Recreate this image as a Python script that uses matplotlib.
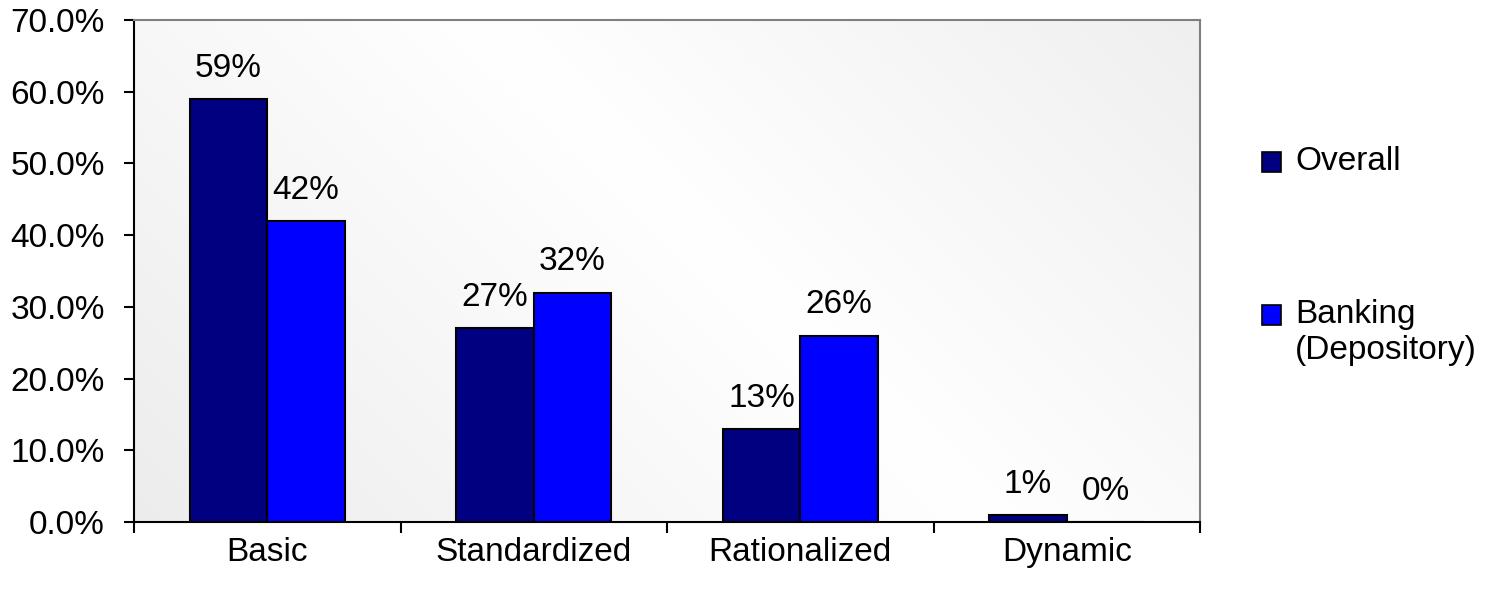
import numpy as np
import matplotlib.pyplot as plt
from matplotlib.patches import Rectangle

plt.rcParams['font.family'] = ['Liberation Sans', 'DejaVu Sans']

categories = ["Basic", "Standardized", "Rationalized", "Dynamic"]
overall = [59, 27, 13, 1]
banking = [42, 32, 26, 0]
series_names = ["Overall", "Banking\n(Depository)"]
colors = ["#000080", "#0000FF"]

FS = 24

fig = plt.figure(figsize=(14.94, 5.95), dpi=100)
ax = fig.add_axes([134 / 1494, 73 / 595, 1066 / 1494, 502 / 595])

# soft diagonal fill behind the bars: white band through the middle,
# light grey towards the lower-left and upper-right corners
w_px, h_px = 1066, 502
xx, yy = np.meshgrid(np.linspace(0, w_px, 400), np.linspace(0, h_px, 200))
s = xx + yy
shade = 255 - 0.022 * np.abs(s - 850)
shade = np.clip(shade, 0, 255) / 255
img = np.dstack([shade, shade, shade])
ax.imshow(img, extent=[0, 1, 0, 1], origin="lower", aspect="auto",
          transform=ax.transAxes, zorder=0)

x = np.arange(len(categories))
width = 0.29
b1 = ax.bar(x - width / 2, overall, width, color=colors[0], edgecolor="black",
            linewidth=1.5, zorder=2)
b2 = ax.bar(x + width / 2, banking, width, color=colors[1], edgecolor="black",
            linewidth=1.5, zorder=2)

for bars, vals in [(b1, overall), (b2, banking)]:
    for bar, v in zip(bars, vals):
        ax.annotate(f"{v}%", (bar.get_x() + bar.get_width() / 2, v),
                    xytext=(0, 22), textcoords="offset points",
                    ha="center", va="center", fontsize=FS)

ax.set_xlim(-0.5, len(categories) - 0.5)
ax.set_ylim(0, 70)
ax.set_yticks(np.arange(0, 71, 10))
ax.set_yticklabels([f"{t:.1f}%" for t in np.arange(0, 71, 10)])

# category labels centred, ticks on the boundaries between groups
ax.set_xticks(np.arange(-0.5, len(categories), 1.0))
ax.set_xticklabels([])
ax.set_xticks(x, minor=True)
ax.set_xticklabels(categories, minor=True)
ax.tick_params(axis="x", which="minor", length=0, pad=11, labelsize=FS)
ax.tick_params(axis="x", which="major", length=8, width=1.5, direction="out")
ax.tick_params(axis="y", length=7, width=1.5, direction="out", pad=14,
               labelsize=FS)

for side in ["left", "bottom"]:
    ax.spines[side].set_color("black")
    ax.spines[side].set_linewidth(1.5)
for side in ["top", "right"]:
    ax.spines[side].set_color("#808080")
    ax.spines[side].set_linewidth(1.5)

# legend on the right
legend_y = [162, 315]
for name, c, yp in zip(series_names, colors, legend_y):
    fig.patches.append(Rectangle((1262 / 1494, (595 - yp - 10) / 595),
                                 19 / 1494, 20 / 595, facecolor=c,
                                 edgecolor="black", linewidth=1.2,
                                 transform=fig.transFigure, figure=fig))
    fig.text(1295 / 1494, (595 - yp) / 595, name.split("\n")[0],
             fontsize=FS, va="center", ha="left")
    if "\n" in name:
        fig.text(1295 / 1494, (595 - yp - 36) / 595, name.split("\n")[1],
                 fontsize=FS, va="center", ha="left")

fig.savefig("out.png", dpi=100)
